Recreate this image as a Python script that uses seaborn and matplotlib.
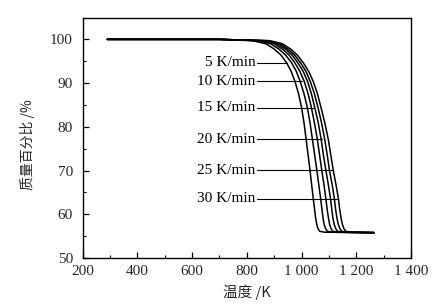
import matplotlib
matplotlib.use("Agg")
import matplotlib.pyplot as plt
import seaborn as sns
import pandas as pd
from matplotlib.ticker import MultipleLocator, FixedLocator, FixedFormatter

sns.set_style("ticks")
plt.rcParams['font.family'] = ['Liberation Serif', 'Noto Sans CJK SC']

rates = ["5 K/min", "10 K/min", "15 K/min", "20 K/min", "25 K/min", "30 K/min"]

# mass (%) levels shared by all curves
mass_levels = [100, 100, 99.7, 99.0, 97.8, 96.4, 94.6, 92.7, 90.4, 87.6, 84.5, 81.0,
               77.1, 73.6, 70.1, 66.8, 63.6, 61.0, 59.0, 57.6, 56.6, 56.1, 55.9, 55.8]

temp_5 = [290, 700, 820, 870, 900, 925, 946, 962, 976, 989, 1000, 1009,
          1017, 1024, 1031, 1037, 1043, 1048, 1052, 1056, 1061, 1067, 1085, 1265]
temp_10 = [290, 700, 839, 887, 917, 942, 964, 981, 995, 1009, 1021, 1031,
           1040, 1048, 1056, 1063, 1070, 1075, 1079, 1083, 1089, 1095, 1113, 1265]
temp_15 = [290, 700, 852, 900, 930, 955, 976, 994, 1010, 1024, 1036, 1047,
           1058, 1066, 1074, 1082, 1089, 1094, 1099, 1103, 1109, 1115, 1133, 1265]
temp_20 = [290, 700, 864, 911, 941, 966, 987, 1006, 1022, 1036, 1048, 1061,
           1072, 1080, 1089, 1098, 1106, 1111, 1115, 1120, 1126, 1132, 1150, 1265]
temp_25 = [290, 700, 875, 920, 950, 975, 997, 1016, 1032, 1047, 1060, 1073,
           1085, 1094, 1102, 1112, 1120, 1125, 1130, 1135, 1141, 1148, 1165, 1265]
temp_30 = [290, 700, 885, 930, 960, 985, 1007, 1026, 1043, 1058, 1071, 1085,
           1098, 1107, 1116, 1126, 1135, 1140, 1145, 1150, 1156, 1163, 1180, 1265]

# label annotation: mass level and leader-line end temperature
label_mass = [94.6, 90.4, 84.4, 77.2, 70.1, 63.6]
label_temp = [946, 1000, 1043, 1074, 1110, 1135]

x_ticks = [200, 400, 600, 800, 1000, 1200, 1400]
x_tick_labels = ["200", "400", "600", "800", "1 000", "1 200", "1 400"]
y_ticks = [50, 60, 70, 80, 90, 100]

temps = [temp_5, temp_10, temp_15, temp_20, temp_25, temp_30]
frames = []
for r, t in zip(rates, temps):
    frames.append(pd.DataFrame({"T": t, "mass": mass_levels, "rate": r}))
df = pd.concat(frames, ignore_index=True)

fig = plt.figure(figsize=(4.39, 3.04), dpi=100)
ax = fig.add_axes([0.1884, 0.1513, 0.7476, 0.7911])

sns.lineplot(data=df, x="T", y="mass", hue="rate", units="rate", estimator=None,
             sort=False, palette=["black"] * 6, linewidth=1.1, legend=False, ax=ax)

for lbl, lm, lt in zip(rates, label_mass, label_temp):
    ax.plot([837, lt], [lm, lm], color="black", linewidth=0.8)
    ax.text(832, lm, lbl, ha="right", va="center", fontsize=11, color="black")

ax.set_xlim(200, 1400)
ax.set_ylim(50, 105)
ax.xaxis.set_major_locator(FixedLocator(x_ticks))
ax.xaxis.set_major_formatter(FixedFormatter(x_tick_labels))
ax.xaxis.set_minor_locator(MultipleLocator(100))
ax.yaxis.set_major_locator(FixedLocator(y_ticks))
ax.yaxis.set_minor_locator(MultipleLocator(5))
ax.tick_params(which="both", direction="in", top=False, right=False, labelsize=11, color="black")
ax.tick_params(which="major", length=4, width=0.9)
ax.tick_params(which="minor", length=2.5, width=0.8)
ax.tick_params(axis="y", which="major", pad=7)
ax.tick_params(axis="x", which="major", pad=5)
for s in ax.spines.values():
    s.set_color("black")
    s.set_linewidth(1.0)

ax.set_xlabel("温度 /K", fontsize=10.5, family=['Noto Sans CJK SC', 'DejaVu Sans'], labelpad=5)
ax.set_ylabel("质量百分比 /%", fontsize=10, family=['Noto Sans CJK SC', 'DejaVu Sans'])
ax.yaxis.set_label_coords(-0.145, 0.47)

fig.savefig("out.png", dpi=100)
